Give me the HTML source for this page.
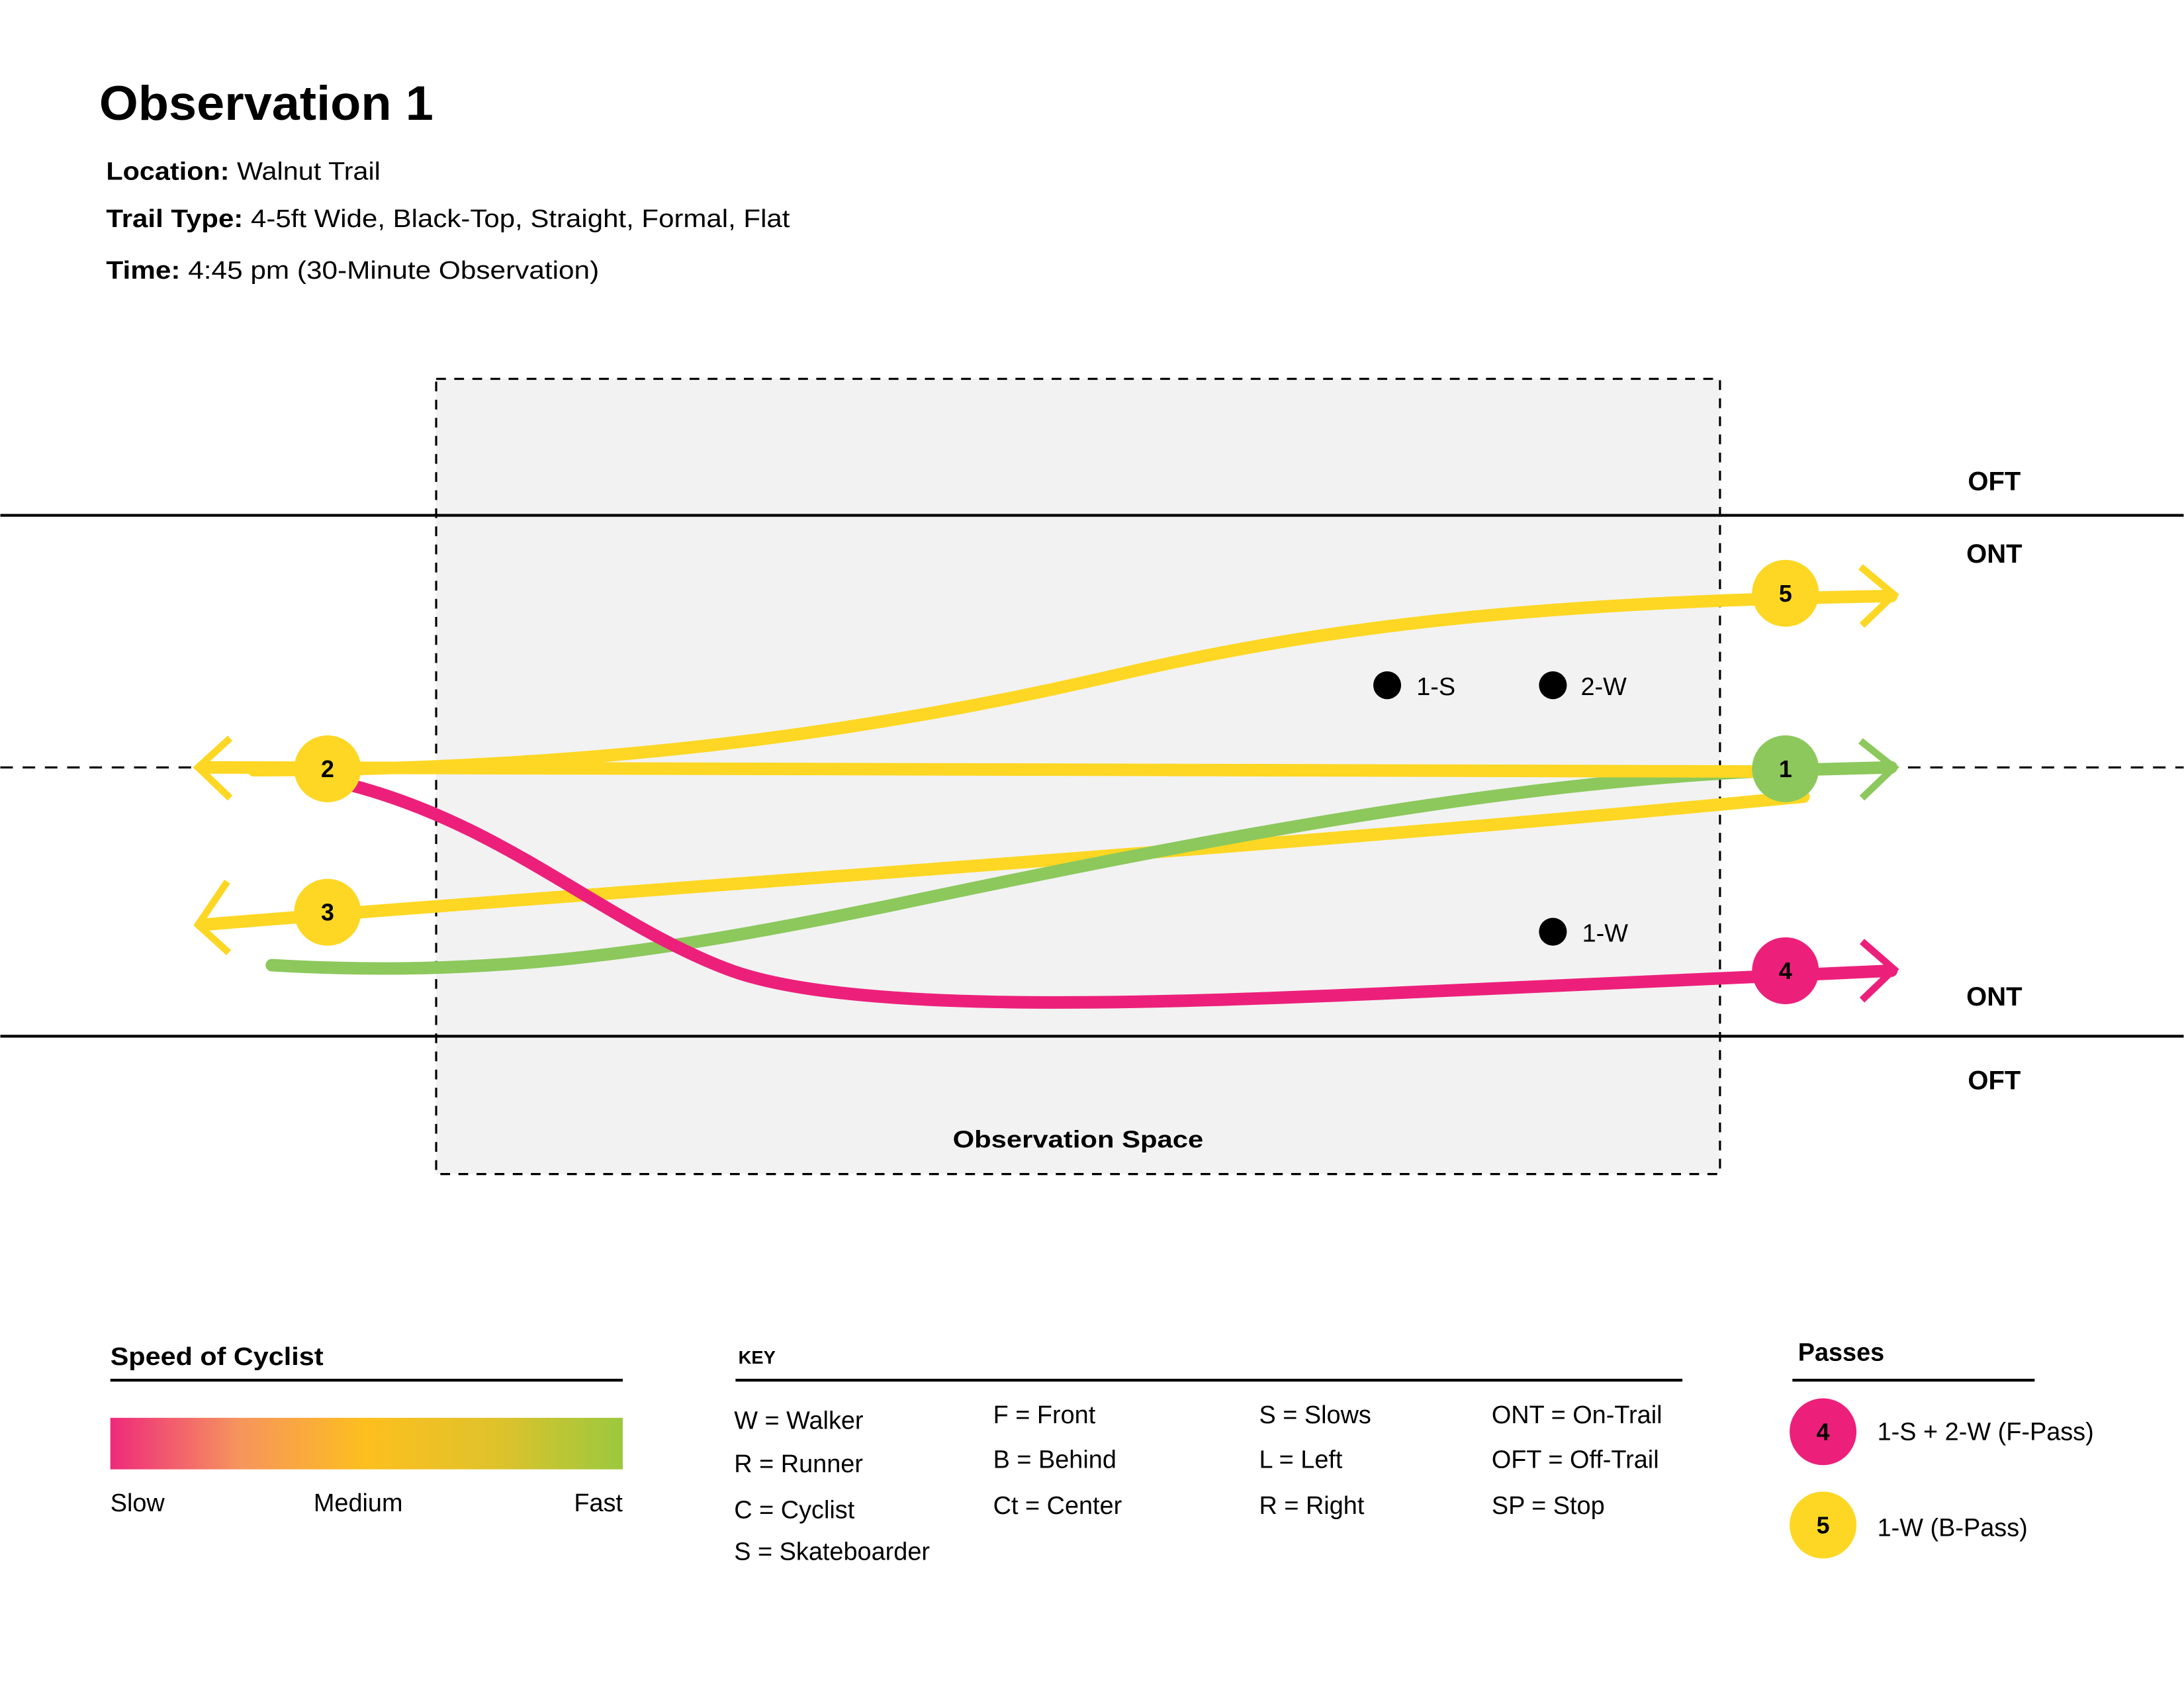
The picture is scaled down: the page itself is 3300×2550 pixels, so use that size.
<!DOCTYPE html>
<html><head><meta charset="utf-8"><style>
html,body{margin:0;padding:0;background:#fff;}
svg{display:block;}
text{font-family:"Liberation Sans",sans-serif;fill:#000;}
.b{font-weight:bold;}
</style></head><body>
<svg width="3300" height="2550" viewBox="0 0 1568 1212" xmlns="http://www.w3.org/2000/svg">
<defs>
<linearGradient id="g" x1="0" x2="1" y1="0" y2="0">
<stop offset="0" stop-color="#EE2A7B"/>
<stop offset="0.25" stop-color="#F6945E"/>
<stop offset="0.5" stop-color="#FDBF1E"/>
<stop offset="0.75" stop-color="#E0C22B"/>
<stop offset="1" stop-color="#9CC83E"/>
</linearGradient>
</defs>
<rect width="1568" height="1212" fill="#fff"/>
<text x="71" y="86" class="b" font-size="35" textLength="240" lengthAdjust="spacingAndGlyphs">Observation 1</text>
<text x="76" y="129" font-size="18" textLength="197" lengthAdjust="spacingAndGlyphs"><tspan class="b">Location:</tspan> Walnut Trail</text>
<text x="76" y="163" font-size="18" textLength="491" lengthAdjust="spacingAndGlyphs"><tspan class="b">Trail Type:</tspan> 4-5ft Wide, Black-Top, Straight, Formal, Flat</text>
<text x="76" y="200" font-size="18" textLength="354" lengthAdjust="spacingAndGlyphs"><tspan class="b">Time:</tspan> 4:45 pm (30-Minute Observation)</text>
<rect x="313" y="272" width="922" height="571" fill="#F2F2F2" stroke="#000" stroke-width="1.5" stroke-dasharray="7,6"/>
<line x1="0" y1="370" x2="1568" y2="370" stroke="#000" stroke-width="2"/>
<line x1="0" y1="744" x2="1568" y2="744" stroke="#000" stroke-width="2"/>
<line x1="0" y1="551" x2="140" y2="551" stroke="#000" stroke-width="1.5" stroke-dasharray="9,7"/>
<line x1="1370" y1="551" x2="1568" y2="551" stroke="#000" stroke-width="1.5" stroke-dasharray="9,7"/>
<text x="1432" y="352" class="b" font-size="19" text-anchor="middle">OFT</text>
<text x="1432" y="404" class="b" font-size="19" text-anchor="middle">ONT</text>
<text x="1432" y="722" class="b" font-size="19" text-anchor="middle">ONT</text>
<text x="1432" y="782" class="b" font-size="19" text-anchor="middle">OFT</text>
<text x="774" y="824" class="b" font-size="17" text-anchor="middle" textLength="180" lengthAdjust="spacingAndGlyphs">Observation Space</text>
<g fill="none" stroke-width="9" stroke-linecap="round">
<path d="M1295,572 C900,610 500,635 145,664" stroke="#FDD723"/>
<path d="M195,693 C350,702 470,685 640,650 C900,595 1100,560 1282,553 L1358,551" stroke="#8CC85C"/>
<path d="M245,562 C360,590 430,660 520,695 C600,727 800,722 1000,713 L1358,697" stroke="#EC207A"/>
<path d="M182,553 C450,553 650,520 800,485 C950,450 1100,432 1358,428" stroke="#FDD723"/>
<path d="M1282,554 L145,551" stroke="#FDD723"/>
</g>
<g fill="none" stroke-width="5">
<polyline points="165,530 142,551 165,573" stroke="#FDD723"/>
<polyline points="163,633 142,664 164,684" stroke="#FDD723"/>
<polyline points="1336,407 1360,427 1337,449" stroke="#FDD723"/>
<polyline points="1336,532 1360,551 1337,573" stroke="#8CC85C"/>
<polyline points="1337,676 1360,696 1337,718" stroke="#EC207A"/>
</g>
<g font-size="17" class="b" text-anchor="middle">
<circle cx="235" cy="552" r="24" fill="#FDD723"/><text x="235" y="558" class="b">2</text>
<circle cx="235" cy="655" r="24" fill="#FDD723"/><text x="235" y="661" class="b">3</text>
<circle cx="1282" cy="552" r="24" fill="#8CC85C"/><text x="1282" y="558" class="b">1</text>
<circle cx="1282" cy="426" r="24" fill="#FDD723"/><text x="1282" y="432" class="b">5</text>
<circle cx="1282" cy="697" r="24" fill="#EC207A"/><text x="1282" y="703" class="b">4</text>
</g>
<circle cx="996" cy="492" r="10" fill="#000"/><text x="1017" y="499" font-size="18">1-S</text>
<circle cx="1115" cy="492" r="10" fill="#000"/><text x="1135" y="499" font-size="18">2-W</text>
<circle cx="1115" cy="669" r="10" fill="#000"/><text x="1136" y="676" font-size="18">1-W</text>
<text x="79" y="980" class="b" font-size="18" textLength="153" lengthAdjust="spacingAndGlyphs">Speed of Cyclist</text>
<line x1="79" y1="991" x2="447" y2="991" stroke="#000" stroke-width="2"/>
<rect x="79" y="1018" width="368" height="37" fill="url(#g)"/>
<text x="79" y="1085" font-size="18">Slow</text>
<text x="257" y="1085" font-size="18" text-anchor="middle">Medium</text>
<text x="447" y="1085" font-size="18" text-anchor="end">Fast</text>
<text x="530" y="979" class="b" font-size="13">KEY</text>
<line x1="528" y1="991" x2="1208" y2="991" stroke="#000" stroke-width="2"/>
<g font-size="18">
<text x="527" y="1026">W = Walker</text>
<text x="527" y="1057">R = Runner</text>
<text x="527" y="1090">C = Cyclist</text>
<text x="527" y="1120">S = Skateboarder</text>
<text x="713" y="1022">F = Front</text>
<text x="713" y="1054">B = Behind</text>
<text x="713" y="1087">Ct = Center</text>
<text x="904" y="1022">S = Slows</text>
<text x="904" y="1054">L = Left</text>
<text x="904" y="1087">R = Right</text>
<text x="1071" y="1022">ONT = On-Trail</text>
<text x="1071" y="1054">OFT = Off-Trail</text>
<text x="1071" y="1087">SP = Stop</text>
</g>
<text x="1291" y="977" class="b" font-size="18">Passes</text>
<line x1="1287" y1="991" x2="1461" y2="991" stroke="#000" stroke-width="2"/>
<circle cx="1309" cy="1028" r="24" fill="#EC207A"/><text x="1309" y="1034" class="b" font-size="17" text-anchor="middle">4</text>
<circle cx="1309" cy="1095" r="24" fill="#FDD723"/><text x="1309" y="1101" class="b" font-size="17" text-anchor="middle">5</text>
<text x="1348" y="1034" font-size="18">1-S + 2-W (F-Pass)</text>
<text x="1348" y="1103" font-size="18">1-W (B-Pass)</text>
</svg>
</body></html>
